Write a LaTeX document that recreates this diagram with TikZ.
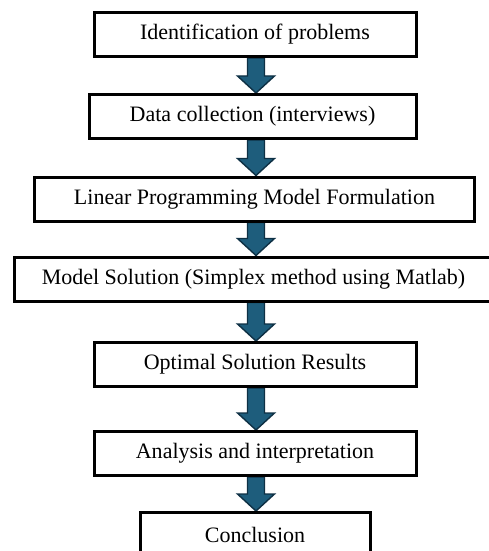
\documentclass[tikz,border=0pt]{standalone}
\usepackage{fontspec}
\setmainfont{Liberation Serif}
\usetikzlibrary{
    calc,
    backgrounds
}
\definecolor{arrowfill}{RGB}{30,93,124}
\definecolor{arrowline}{RGB}{14,48,68}
\tikzstyle{stage} = [
    rectangle,
    draw=black,
    line width=1.5pt,
    minimum height=22pt,
    inner sep=0pt,
    align=center,
    font=\fontsize{11}{13}\selectfont
]
\tikzstyle{fatarrow} = [
    fill=arrowfill,
    draw=arrowline,
    line width=0.7pt,
    line join=miter
]
% block arrow from the bottom of one stage to the top of the next, on the spine
\newcommand{\flowarrow}[2]{%
    \draw[fatarrow] ($(#1.south -| spine)+(-4.25pt,0)$) -- ($(#2.north -| spine)+(-4.25pt,8.5pt)$)
        -- ($(#2.north -| spine)+(-9.25pt,8.5pt)$) -- (#2.north -| spine)
        -- ($(#2.north -| spine)+(9.25pt,8.5pt)$) -- ($(#2.north -| spine)+(4.25pt,8.5pt)$)
        -- ($(#1.south -| spine)+(4.25pt,0)$) -- cycle;}

\begin{document}
\begin{tikzpicture}[x=0.5pt, y=-0.5pt]
    \useasboundingbox (0,0) rectangle (488,551);
    \coordinate (spine) at (256,0);
    \node[stage, minimum width=161pt] (problems) at (255,34.5) {Identification of problems};
    \node[stage, minimum width=163.5pt] (data) at (252.5,116.5) {Data collection (interviews)};
    \node[stage, minimum width=220pt] (model) at (254.5,199) {Linear Programming Model Formulation};
    \node[stage, minimum width=250pt] (solution) at (264,279) {\hspace*{-10.5pt}Model Solution (Simplex method using Matlab)};
    \node[stage, minimum width=161pt] (results) at (255,364.5) {Optimal Solution Results};
    \node[stage, minimum width=161pt] (analysis) at (255,453.5) {Analysis and interpretation};
    \node[stage, minimum width=115pt] (conclusion) at (255,534.5) {Conclusion};
    \begin{scope}[on background layer]
        \flowarrow{problems}{data}
        \flowarrow{data}{model}
        \flowarrow{model}{solution}
        \flowarrow{solution}{results}
        \flowarrow{results}{analysis}
        \flowarrow{analysis}{conclusion}
    \end{scope}
\end{tikzpicture}
\end{document}
